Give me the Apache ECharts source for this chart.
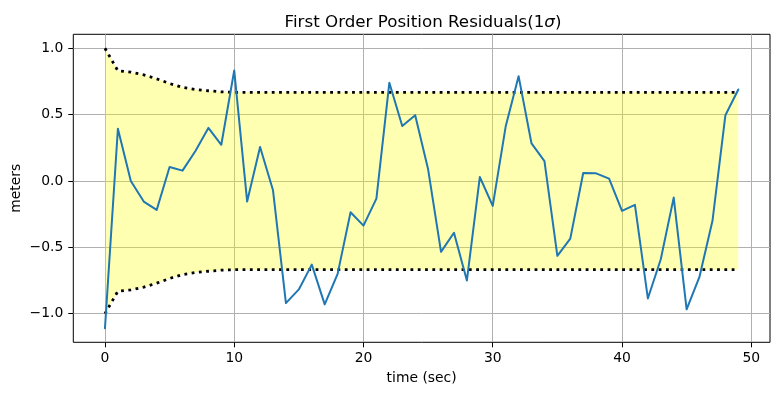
<!DOCTYPE html>
<html>
<head>
<meta charset="utf-8">
<script src="https://cdn.jsdelivr.net/npm/echarts@6/dist/echarts.min.js"></script>
<style>html,body{margin:0;padding:0;background:#fff}#c{width:780px;height:395px}</style>
</head>
<body>
<div id="c"></div>
<script>
var timeSec = [0,1,2,3,4,5,6,7,8,9,10,11,12,13,14,15,16,17,18,19,20,21,22,23,24,25,26,27,28,29,30,31,32,33,34,35,36,37,38,39,40,41,42,43,44,45,46,47,48,49];
var residuals = [-1.11,0.394,0.0,-0.155,-0.218,0.105,0.078,0.226,0.40,0.273,
                 0.833,-0.155,0.256,-0.07,-0.92,-0.817,-0.63,-0.93,-0.70,-0.236,
                 -0.336,-0.133,0.74,0.414,0.496,0.088,-0.534,-0.39,-0.75,0.03,
                 -0.188,0.41,0.79,0.283,0.15,-0.564,-0.434,0.06,0.058,0.018,
                 -0.225,-0.18,-0.885,-0.59,-0.125,-0.967,-0.72,-0.30,0.496,0.69];
var stdUpper = [1.0,0.83,0.82,0.80,0.77,0.735,0.705,0.69,0.68,0.672,
                0.668,0.668,0.668,0.668,0.668,0.668,0.668,0.668,0.668,0.668,
                0.668,0.668,0.668,0.668,0.668,0.668,0.668,0.668,0.668,0.668,
                0.668,0.668,0.668,0.668,0.668,0.668,0.668,0.668,0.668,0.668,
                0.668,0.668,0.668,0.668,0.668,0.668,0.668,0.668,0.668,0.668];
var stdLower = [-1.0,-0.83,-0.82,-0.80,-0.77,-0.735,-0.705,-0.69,-0.68,-0.672,
                -0.668,-0.668,-0.668,-0.668,-0.668,-0.668,-0.668,-0.668,-0.668,-0.668,
                -0.668,-0.668,-0.668,-0.668,-0.668,-0.668,-0.668,-0.668,-0.668,-0.668,
                -0.668,-0.668,-0.668,-0.668,-0.668,-0.668,-0.668,-0.668,-0.668,-0.668,
                -0.668,-0.668,-0.668,-0.668,-0.668,-0.668,-0.668,-0.668,-0.668,-0.668];
var xTicks = [0,10,20,30,40,50];
var yTicks = [-1.0,-0.5,0.0,0.5,1.0];

function pairs(ys){ return timeSec.map(function(t,i){ return [t, ys[i]]; }); }
var bandData = timeSec.map(function(t,i){ return [t, stdUpper[i], stdLower[i]]; });

var FONT = 'DejaVu Sans';
var chart = echarts.init(document.getElementById('c'), null, {renderer:'canvas'});
chart.setOption({
  animation:false,
  backgroundColor:'#fff',
  title:{
    text:'First Order Position Residuals(1{i|σ})',
    left:418, top:9.5, textAlign:'center',
    textStyle:{fontFamily:FONT, fontSize:16.7, fontWeight:'normal', color:'#000',
      rich:{i:{fontFamily:FONT, fontSize:16.7, fontStyle:'italic', color:'#000'}}}
  },
  grid:{left:73.3, right:10, top:34.3, bottom:52.7, show:true, borderColor:'#000', borderWidth:1,
        backgroundColor:'transparent', containLabel:false, outerBoundsMode:'none'},
  xAxis:{
    type:'value', min:-2.45, max:51.45,
    name:'time (sec)', nameLocation:'middle', nameGap:29, nameMoveOverlap:false,
    nameTextStyle:{fontFamily:FONT, fontSize:13.9, color:'#000'},
    axisLine:{show:false, onZero:false},
    axisTick:{show:true, inside:false, length:5, lineStyle:{color:'#000', width:1}, customValues:xTicks},
    axisLabel:{fontFamily:FONT, fontSize:13.9, color:'#000', margin:9, customValues:xTicks},
    splitLine:{show:true, lineStyle:{color:'#b0b0b0', width:1}}
  },
  yAxis:{
    type:'value', min:-1.2155, max:1.1055,
    name:'meters', nameLocation:'middle', nameGap:49.5, nameRotate:90, nameMoveOverlap:false,
    nameTextStyle:{fontFamily:FONT, fontSize:13.9, color:'#000'},
    axisLine:{show:false, onZero:false},
    axisTick:{show:true, inside:false, length:5, lineStyle:{color:'#000', width:1}, customValues:yTicks},
    axisLabel:{fontFamily:FONT, fontSize:13.9, color:'#000', margin:10, customValues:yTicks,
      formatter:function(v){ return v.toFixed(1).replace('-', '\u2212'); }},
    splitLine:{show:true, lineStyle:{color:'#b0b0b0', width:1}}
  },
  series:[
    {type:'custom', name:'band', data:bandData, z:1, silent:true, clip:true,
     encode:{x:0, y:[1,2]},
     renderItem:function(params, api){
       if (params.dataIndex !== 0) return null;
       var pts = [];
       for (var i = 0; i < bandData.length; i++) pts.push(api.coord([bandData[i][0], bandData[i][1]]));
       for (var j = bandData.length - 1; j >= 0; j--) pts.push(api.coord([bandData[j][0], bandData[j][2]]));
       return {type:'polygon', shape:{points:pts}, style:{fill:'rgba(255,255,0,0.3)', stroke:null}};
     }},
    {type:'line', name:'upper', data:pairs(stdUpper), symbol:'none', z:3,
     lineStyle:{color:'#000', width:2.8, type:[2.8,4.5], cap:'butt'}},
    {type:'line', name:'lower', data:pairs(stdLower), symbol:'none', z:3,
     lineStyle:{color:'#000', width:2.8, type:[2.8,4.5], cap:'butt'}},
    {type:'line', name:'residual', data:pairs(residuals), symbol:'none', z:4,
     lineStyle:{color:'#1f77b4', width:2, join:'round', cap:'round'}}
  ]
});
</script>
</body>
</html>
